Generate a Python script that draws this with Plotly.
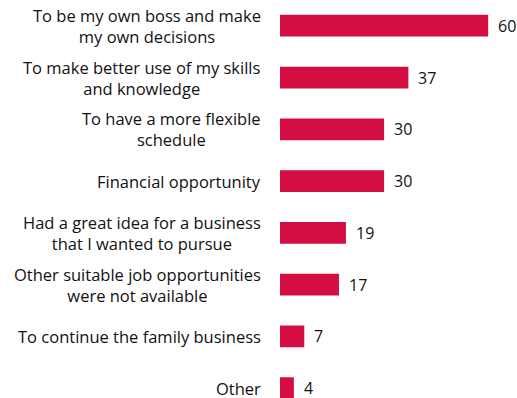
import plotly.graph_objects as go

# Reasons for starting a business (%)
reasons = [
    "To be my own boss and make<br>my own decisions",
    "To make better use of my skills<br>and knowledge",
    "To have a more flexible<br>schedule",
    "Financial opportunity",
    "Had a great idea for a business<br>that I wanted to pursue",
    "Other suitable job opportunities<br>were not available",
    "To continue the family business",
    "Other",
]
shares = [60, 37, 30, 30, 19, 17, 7, 4]

BAR_COLOR = "#D40E43"
TEXT_COLOR = "#111111"
FONT = "Open Sans"

fig = go.Figure(
    go.Bar(
        x=shares,
        y=list(range(len(reasons))),
        orientation="h",
        marker=dict(color=BAR_COLOR, line=dict(width=0)),
        width=0.42,
        hoverinfo="skip",
    )
)

annotations = []
for i, (label, val) in enumerate(zip(reasons, shares)):
    # category label, centred lines, right edge near the bars
    annotations.append(dict(
        x=0, y=i, xref="x", yref="y", text=label, showarrow=False,
        xanchor="right", yanchor="middle", align="center", xshift=-17,
        font=dict(family=FONT, size=16.5, color=TEXT_COLOR),
    ))
    # value label just past the bar end
    annotations.append(dict(
        x=val, y=i, xref="x", yref="y", text=str(val), showarrow=False,
        xanchor="left", yanchor="middle", xshift=8,
        font=dict(family=FONT, size=16, color=TEXT_COLOR),
    ))

fig.update_layout(
    width=517, height=398,
    margin=dict(l=280, r=0, t=0, b=0),
    paper_bgcolor="white", plot_bgcolor="white",
    showlegend=False,
    xaxis=dict(range=[0, 68.3], visible=False),
    yaxis=dict(range=[7.19, -0.497], visible=False),
    annotations=annotations,
)

fig.write_html("out.html")
